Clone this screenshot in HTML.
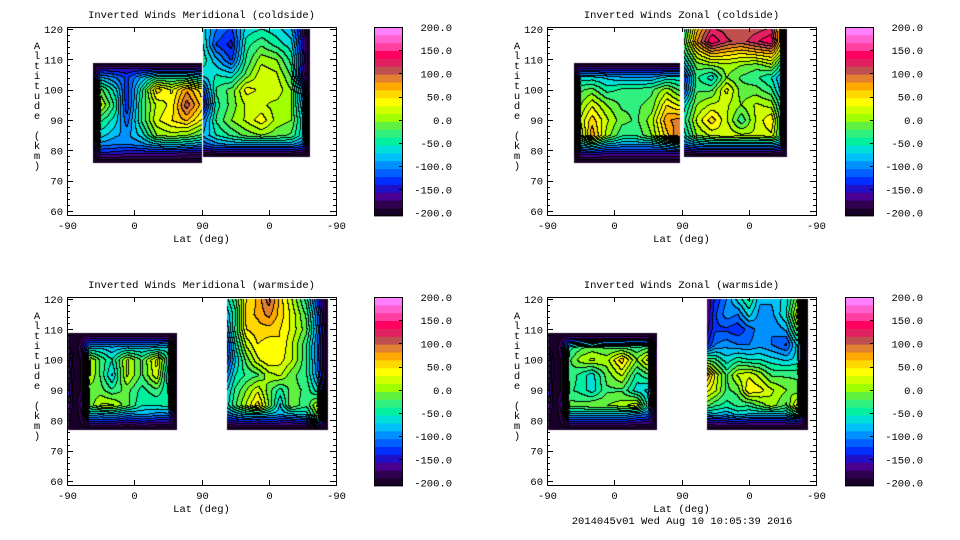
<!DOCTYPE html>
<html><head><meta charset="utf-8"><title>Inverted Winds</title>
<style>
html,body{margin:0;padding:0;background:#fff;width:960px;height:540px;overflow:hidden}
#cv{position:absolute;left:0;top:0}
#ov{position:absolute;left:0;top:0}
text{font-family:"Liberation Mono","DejaVu Sans Mono",monospace;font-size:10.5px;fill:#000}
</style></head>
<body>
<canvas id="cv" width="960" height="540"></canvas>
<svg id="ov" width="960" height="540" xmlns="http://www.w3.org/2000/svg"></svg>
<script>
// ---------- data (values in m/s) ----------
const colorTickLabels=["200.0","150.0","100.0","50.0","0.0","-50.0","-100.0","-150.0","-200.0"];
const xTickLabels=["-90","0","90","0","-90"];
const yTickLabels=["120","110","100","90","80","70","60"];
const yTickValues=[120,110,100,90,80,70,60];
const panelTitles=["Inverted Winds Meridional (coldside)","Inverted Winds Zonal (coldside)","Inverted Winds Meridional (warmside)","Inverted Winds Zonal (warmside)"];

// Top-left: meridional coldside
const tlLeftLats=[-56,-45,-25,-10,10,30,50,70,90];
const tlLeftAlts=[109,107,104,100,95,90,85,82,79,76];
const tlLeftVals=[
[-200,-200,-200,-200,-200,-200,-200,-200,-200],
[-200,-150,-150,-150,-150,-150,-150,-150,-150],
[-200,-80,-100,-120,-80,-40,-40,-40,-60],
[-200,-10,-60,-130,-40,60,30,80,40],
[-200,20,-40,-130,-30,20,40,110,60],
[-200,-30,-60,-110,-30,30,50,70,30],
[-200,-60,-80,-90,-60,0,10,0,-20],
[-200,-90,-100,-100,-90,-70,-60,-70,-80],
[-200,-140,-140,-150,-150,-150,-150,-160,-160],
[-200,-200,-200,-200,-200,-200,-200,-200,-200]];
const tlRightLats=[88,70,50,30,10,-10,-30,-45,-54];
const tlRightAlts=[120,115,110,105,100,95,90,85,82,80,78];
const tlRightVals=[
[-60,-100,-120,-60,-50,-60,-80,-150,-200],
[-50,-120,-140,-40,-20,-40,-60,-140,-200],
[-40,-80,-120,-30,10,0,-40,-130,-200],
[-60,-50,-60,-10,30,20,-20,-150,-200],
[-120,-30,-10,40,30,30,0,-100,-200],
[-150,-40,-10,20,20,10,0,-80,-200],
[-100,-30,0,20,45,10,0,-60,-200],
[-80,-50,-30,-10,0,-10,-20,-60,-200],
[-110,-90,-80,-80,-80,-80,-80,-100,-200],
[-150,-140,-140,-140,-140,-140,-140,-150,-200],
[-200,-200,-200,-200,-200,-200,-200,-200,-200]];

// Top-right: zonal coldside
const trLeftLats=[-55,-45,-30,-10,10,30,50,70,87];
const trLeftAlts=[109,107,104,100,95,90,85,82,79,76];
const trLeftVals=[
[-200,-200,-200,-200,-200,-200,-200,-200,-200],
[-200,-150,-150,-150,-150,-150,-150,-150,-150],
[-200,-60,-60,-70,-80,-80,-80,-60,-60],
[-200,-20,-10,-40,-30,-30,-20,10,-20],
[-200,0,30,0,-20,-20,-10,50,30],
[-200,20,60,20,-10,-20,10,80,90],
[-200,0,80,10,-30,-30,0,60,100],
[-200,-60,-40,-70,-80,-80,-80,-60,-40],
[-200,-140,-140,-150,-150,-150,-150,-150,-150],
[-200,-200,-200,-200,-200,-200,-200,-200,-200]];
const trRightLats=[87,70,50,30,10,-10,-30,-42,-50];
const trRightAlts=[120,116,112,108,104,100,95,90,85,82,80,78];
const trRightVals=[
[-40,60,120,110,100,110,120,60,-200],
[-20,80,150,120,110,130,150,60,-200],
[-40,30,70,60,50,60,70,20,-200],
[-80,-10,0,10,0,-10,10,-40,-200],
[-130,-30,-60,0,-20,-30,-50,-80,-200],
[-120,-20,-20,40,-10,-10,-30,-70,-200],
[-60,0,20,20,0,20,10,-40,-200],
[-40,20,60,20,-30,20,50,-20,-200],
[-60,0,20,30,20,20,30,-20,-200],
[-100,-80,-70,-70,-70,-70,-70,-90,-200],
[-150,-140,-140,-140,-140,-140,-140,-150,-200],
[-200,-200,-200,-200,-200,-200,-200,-200,-200]];

// Bottom-left: meridional warmside
const blLeftLats=[-89,-80,-70,-60,-45,-30,-10,10,30,45,57];
const blLeftAlts=[109,107,104,100,95,90,85,82,79,77];
const blLeftVals=[
[-200,-200,-200,-200,-200,-200,-200,-200,-200,-200,-200],
[-200,-200,-180,-150,-150,-150,-150,-150,-150,-150,-200],
[-180,-200,-160,-70,-70,-80,-70,-70,-70,-60,-200],
[-130,-200,-180,20,-20,-50,20,-20,40,-40,-200],
[-120,-200,-180,20,-20,-70,20,-20,30,-60,-200],
[-130,-200,-180,-10,-10,-30,-10,-40,-20,-50,-200],
[-150,-200,-150,-10,20,20,-10,-50,-50,-40,-200],
[-170,-200,-170,-70,-80,-70,-90,-80,-90,-90,-200],
[-200,-200,-180,-150,-150,-150,-160,-150,-160,-160,-200],
[-200,-200,-200,-200,-200,-200,-200,-200,-200,-200,-200]];
const blRightLats=[57,45,30,15,0,-15,-30,-50,-65,-78];
const blRightAlts=[120,115,110,105,100,95,90,85,82,80,77];
const blRightVals=[
[-60,-20,50,70,110,60,20,-40,-120,-200],
[-80,-40,60,70,90,60,30,-20,-100,-200],
[-100,-30,50,60,60,50,30,-10,-90,-200],
[-130,-50,20,50,40,50,20,-30,-100,-200],
[-130,-70,-10,30,50,40,20,-30,-100,-200],
[-100,-50,-30,-20,10,20,-10,-30,-90,-200],
[-70,-30,0,30,-10,-40,-10,-20,-60,-200],
[-60,-20,20,60,0,-70,0,-30,20,-200],
[-100,-80,-60,-60,-70,-80,-70,-60,0,-200],
[-140,-130,-120,-130,-120,-130,-130,-120,-60,-200],
[-200,-200,-200,-200,-200,-200,-200,-200,-200,-200]];

// Bottom-right: zonal warmside
const brLeftLats=[-89,-80,-70,-60,-45,-30,-10,10,30,45,57];
const brLeftAlts=[109,107,104,100,95,90,85,82,79,77];
const brLeftVals=[
[-200,-200,-200,-200,-200,-200,-200,-200,-200,-200,-200],
[-200,-200,-180,-150,-150,-150,-150,-150,-150,-150,-200],
[-180,-200,-160,-40,-20,-10,-20,-20,-30,-20,-200],
[-120,-200,-180,-20,10,20,10,60,0,40,-200],
[-120,-200,-180,-20,-40,-60,-10,20,-40,-20,-200],
[-130,-200,-180,-30,-40,-60,-20,-20,-60,-70,-200],
[-150,-200,-150,-10,-10,0,0,10,30,-60,-200],
[-170,-200,-170,-70,-70,-70,-70,-70,-90,-100,-200],
[-200,-200,-180,-150,-150,-150,-150,-150,-160,-160,-200],
[-200,-200,-200,-200,-200,-200,-200,-200,-200,-200,-200]];
const brRightLats=[57,45,30,15,0,-15,-30,-50,-65,-78];
const brRightAlts=[120,115,110,105,100,95,90,85,82,80,77];
const brRightVals=[
[-170,-130,-100,-60,-30,-80,-80,-60,0,-200],
[-170,-120,-90,-100,-60,-90,-90,-50,30,-200],
[-160,-120,-120,-130,-110,-90,-100,-80,-10,-200],
[-140,-100,-90,-100,-100,-90,-100,-120,-60,-200],
[-20,-30,-60,-40,-50,-50,-60,-70,-60,-200],
[90,30,-20,20,30,10,-20,-20,-20,-200],
[40,20,-20,-10,50,40,20,0,-10,-200],
[-10,-30,-40,-30,-30,-10,10,-20,40,-200],
[-80,-70,-80,-60,-70,-70,-70,-70,-30,-200],
[-140,-130,-130,-120,-130,-130,-130,-130,-120,-200],
[-200,-200,-200,-200,-200,-200,-200,-200,-200,-200]];

const bandColors=['#180028','#300050','#4a0090','#2010c8','#0030ff','#0060ff','#0090ff','#00c0f8','#00e0d8','#00f0a0','#30f080','#60f040','#a0ff00','#d0ff00','#ffff00','#ffd800','#ffa800','#e08030','#c05050','#e02060','#ff0060','#ff40a0','#ff60d0','#ff80ff'];

// ---------- layout ----------
const panels=[
 {ox:67,oy:27,cb:374,halves:[[tlLeftLats,tlLeftAlts,tlLeftVals,0],[tlRightLats,tlRightAlts,tlRightVals,1]]},
 {ox:547,oy:27,cb:845,halves:[[trLeftLats,trLeftAlts,trLeftVals,0],[trRightLats,trRightAlts,trRightVals,1]]},
 {ox:67,oy:297,cb:374,halves:[[blLeftLats,blLeftAlts,blLeftVals,0],[blRightLats,blRightAlts,blRightVals,1]]},
 {ox:547,oy:297,cb:845,halves:[[brLeftLats,brLeftAlts,brLeftVals,0],[brRightLats,brRightAlts,brRightVals,1]]}];
const FW=269,FH=188;
function xOf(lat,side,ox){const u=side===0?lat:180-lat;return ox+(u+90)*FW/360;}
function yOf(alt,oy){return oy+2+(120-alt)*182/60;}
function bandOf(v){let b=Math.floor((v+200)/400*24);return Math.max(0,Math.min(23,b));}

// ---------- contour raster ----------
const W=960,H=540;
const band=new Int8Array(W*H).fill(-1);
function seg(arr,p){for(let i=0;i<arr.length-1;i++){if(p>=arr[i]&&p<=arr[i+1])return i;}return -1;}
panels.forEach(P=>{
 P.halves.forEach(h=>{
  const [lats,alts,vals,side]=h;
  const cx=lats.map(l=>xOf(l,side,P.ox));
  const cy=alts.map(a=>yOf(a,P.oy));
  for(let y=Math.ceil(cy[0]);y<=Math.floor(cy[cy.length-1]);y++){
   const j=seg(cy,y);if(j<0)continue;
   const ty=(y-cy[j])/(cy[j+1]-cy[j]);
   for(let x=Math.ceil(cx[0]);x<=Math.floor(cx[cx.length-1]);x++){
    const i=seg(cx,x);if(i<0)continue;
    const tx=(x-cx[i])/(cx[i+1]-cx[i]);
    const v=(vals[j][i]*(1-tx)+vals[j][i+1]*tx)*(1-ty)+(vals[j+1][i]*(1-tx)+vals[j+1][i+1]*tx)*ty;
    band[y*W+x]=bandOf(v);
   }
  }
 });
});
const cv=document.getElementById('cv');const ctx=cv.getContext('2d');
const img=ctx.createImageData(W,H);const d=img.data;
const rgb=bandColors.map(c=>[parseInt(c.substr(1,2),16),parseInt(c.substr(3,2),16),parseInt(c.substr(5,2),16)]);
for(let y=0;y<H;y++)for(let x=0;x<W;x++){
 const k=y*W+x,p=k*4,b=band[k];
 if(b<0){d[p]=d[p+1]=d[p+2]=255;d[p+3]=255;continue;}
 let line=false;
 if(x+1<W){const r=band[k+1];if(r>=0&&r!==b)line=true;}
 if(y+1<H){const r=band[k+W];if(r>=0&&r!==b)line=true;}
 const c=line?[0,0,0]:rgb[b];
 d[p]=c[0];d[p+1]=c[1];d[p+2]=c[2];d[p+3]=255;
}
ctx.putImageData(img,0,0);

// ---------- axes / text overlay ----------
const svg=document.getElementById('ov');const NS='http://www.w3.org/2000/svg';
function mk(tag,attrs,parent){const e=document.createElementNS(NS,tag);for(const k in attrs)e.setAttribute(k,attrs[k]);(parent||svg).appendChild(e);return e;}
panels.forEach((P,pi)=>{
 const g=mk('g',{});
 
 
 const fr=mk('rect',{x:P.ox+0.5,y:P.oy+0.5,width:FW,height:FH,fill:'none',stroke:'#000','stroke-width':1},g);
 
 
 const t=mk('text',{x:P.ox+FW/2,y:P.oy-9,'text-anchor':'middle'},g);
 t.textContent=panelTitles[pi];
 
 
 xTickLabels.forEach((lb,i)=>{
  const x=Math.round(P.ox+i*FW/4)+0.5;
  const tk=mk('path',{d:`M${x} ${P.oy+FH} v-5 M${x} ${P.oy} v5`,stroke:'#000','stroke-width':1},g);
  
  
  const tl=mk('text',{x:x,y:P.oy+FH+14,'text-anchor':'middle'},g);
  tl.textContent=lb;
  
  
 });
 const xt=mk('text',{x:P.ox+FW/2,y:P.oy+FH+27,'text-anchor':'middle'},g);
 xt.textContent='Lat (deg)';
 
 
 for(let a=60;a<=120;a+=2){
  const y=Math.round(yOf(a,P.oy))+0.5;const L=(a%10===0)?6:3;
  const mt=mk('path',{d:`M${P.ox} ${y} h${L} M${P.ox+FW} ${y} h-${L}`,stroke:'#000','stroke-width':1},g);
  
  
 }
 yTickLabels.forEach((lb,i)=>{
  const yl=mk('text',{x:P.ox-4,y:yOf(yTickValues[i],P.oy)+4,'text-anchor':'end'},g);
  yl.textContent=lb;
  
  
 });
 const yt=mk('text',{x:P.ox-30,y:P.oy+22,'text-anchor':'middle'},g);
 
 
 'Altitude (km)'.split('').forEach((ch,i)=>{const s=mk('tspan',{x:P.ox-30,y:P.oy+22+i*10},yt);s.textContent=ch;});
 const cbg=mk('g',{},g);
 
 
 const cbTop=P.oy,cbH=189,bh=cbH/24;
 bandColors.forEach((c,i)=>{
  const r=mk('rect',{x:P.cb,y:cbTop+cbH-(i+1)*bh,width:29,height:bh+0.4,fill:c},cbg);
  
  
 });
 mk('rect',{x:P.cb+0.5,y:cbTop+0.5,width:28,height:cbH-1,fill:'none',stroke:'#000'},cbg);
 colorTickLabels.forEach((lb,i)=>{
  const y=cbTop+i*23.2;
  if(i>0&&i<8){const ct=mk('path',{d:`M${P.cb+29} ${Math.round(y)+0.5} h-4`,stroke:'#000'},cbg);
   
   }
  const cl=mk('text',{x:P.cb+78,y:y+4,'text-anchor':'end'},cbg);
  cl.textContent=lb;
  
  
 });
});
const ft=mk('text',{x:682,y:524,'text-anchor':'middle'});
ft.textContent='2014045v01 Wed Aug 10 10:05:39 2016';


</script>
</body></html>
